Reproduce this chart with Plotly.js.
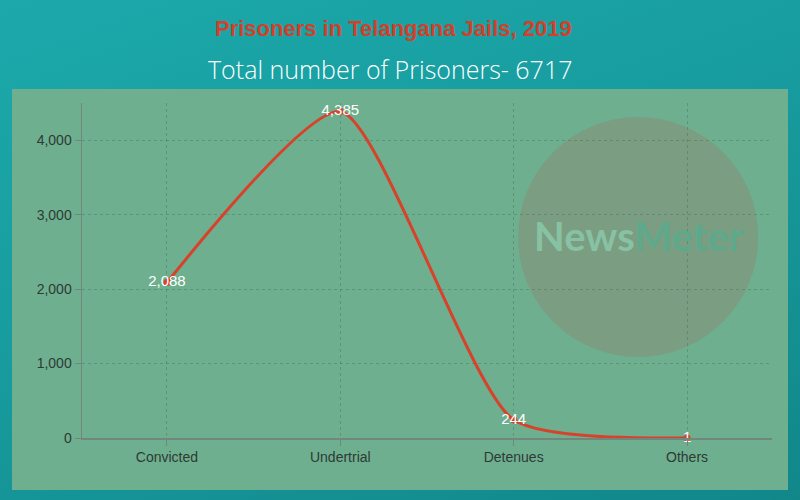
<!DOCTYPE html>
<html>
<head>
<meta charset="utf-8">
<script src="https://cdn.plot.ly/plotly-3.0.1.min.js"></script>
<style>
html,body{margin:0;padding:0;width:800px;height:500px;overflow:hidden;}
body{background:linear-gradient(160deg,#1ca9ab 0%,#179a9d 50%,#11878a 100%);position:relative;}
#panel{position:absolute;left:12px;top:89px;width:776px;height:401px;background:#6daf8f;}
#chart{position:absolute;left:0;top:0;width:800px;height:500px;}
</style>
</head>
<body>
<div id="panel"></div>
<div id="chart"></div>
<script>
const categories = ["Convicted", "Undertrial", "Detenues", "Others"];
const prisoners = [2088, 4385, 244, 1];
const yTickValues = [0, 1000, 2000, 3000, 4000];
const yTickLabels = ["0", "1,000", "2,000", "3,000", "4,000"];
const titleText = "Prisoners in Telangana Jails, 2019";
const subtitleText = "Total number of Prisoners- 6717";

const trace = {
  x: categories,
  y: prisoners,
  type: "scatter",
  mode: "lines+markers+text",
  line: {shape: "spline", smoothing: 0.6, color: "#d8412a", width: 3},
  marker: {color: "#d8412a", size: 7},
  text: prisoners.map(v => v.toLocaleString("en-US")),
  textposition: "middle center",
  textfont: {color: "#ffffff", size: 15, family: "Liberation Sans, Arial, sans-serif"},
  hoverinfo: "x+y",
  cliponaxis: false
};

const gridColor = "rgba(60,90,75,0.32)";
const axisColor = "#72877c";

const layout = {
  width: 800, height: 500,
  margin: {l: 82, r: 28, t: 103, b: 62},
  paper_bgcolor: "rgba(0,0,0,0)",
  plot_bgcolor: "rgba(0,0,0,0)",
  showlegend: false,
  font: {family: "Liberation Sans, Arial, sans-serif", color: "#333333"},
  xaxis: {
    type: "category",
    range: [-0.49, 3.49],
    showgrid: true, gridcolor: gridColor, griddash: "dot", gridwidth: 1,
    showline: true, linecolor: axisColor, linewidth: 1.5,
    ticks: "outside", ticklen: 6, tickcolor: axisColor,
    tickfont: {size: 14, color: "#2f3a35"},
    zeroline: false, fixedrange: true
  },
  yaxis: {
    range: [0, 4500],
    tickvals: yTickValues, ticktext: yTickLabels,
    showgrid: true, gridcolor: gridColor, griddash: "dot", gridwidth: 1,
    showline: true, linecolor: axisColor, linewidth: 1.5,
    ticks: "outside", ticklen: 6, tickcolor: axisColor,
    tickfont: {size: 14, color: "#2f3a35"},
    zeroline: false, fixedrange: true
  },
  shapes: [{
    type: "circle", xref: "paper", yref: "paper",
    x0: 0.632, x1: 0.980, y0: 0.242, y1: 0.958,
    fillcolor: "#7b9e82", line: {width: 0}, layer: "below"
  }],
  annotations: [
    {
      text: "<b>" + titleText + "</b>",
      xref: "paper", yref: "paper", x: (393 - 82) / 690, y: (438 - 28) / 335,
      xanchor: "center", yanchor: "middle", showarrow: false,
      font: {family: "Liberation Sans Narrow, Arial Narrow, sans-serif", size: 22, color: "#d2402b"}
    },
    {
      text: subtitleText,
      xref: "paper", yref: "paper", x: (390 - 82) / 690, y: (438 - 69) / 335,
      xanchor: "center", yanchor: "middle", showarrow: false,
      font: {family: "Open Sans, sans-serif", size: 25, color: "#ffffff", weight: 300}
    },
    {
      text: "<b>News<span style='color:#5ea98b'>Meter</span></b>",
      xref: "paper", yref: "paper", x: (639 - 82) / 690, y: (438 - 236) / 335,
      xanchor: "center", yanchor: "middle", showarrow: false,
      font: {family: "Lato, Open Sans, sans-serif", size: 40, color: "#86c2a3"}
    }
  ]
};

Plotly.newPlot("chart", [trace], layout, {displayModeBar: false, staticPlot: true});
</script>
</body>
</html>
